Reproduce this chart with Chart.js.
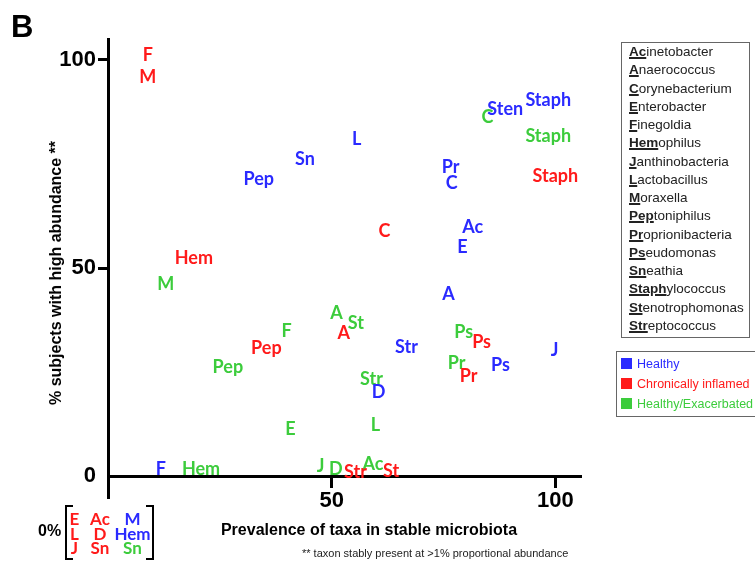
<!DOCTYPE html>
<html>
<head>
<meta charset="utf-8">
<script src="https://cdn.jsdelivr.net/npm/chart.js@4.4.1/dist/chart.umd.min.js"></script>
<style>
  body { margin: 0; background: #fff; }
  #wrap { position: relative; width: 755px; height: 562px; overflow: hidden; font-family: "Liberation Sans", Arial, sans-serif; }
  #chart { position: absolute; left: 0; top: 0; }
  .txt { position: absolute; white-space: nowrap; line-height: 1; }
  #panel { left: 11px; top: 11px; font-size: 31px; font-weight: bold; }
  #ytitle { left: 56px; top: 273px; font-size: 16px; font-weight: bold; transform: translate(-50%, -50%) rotate(-90deg); }
  #xtitle { left: 369px; top: 522px; font-size: 16px; font-weight: bold; transform: translateX(-50%); }
  #note { left: 302px; top: 548px; font-size: 11px; color: #222; }
  #taxa { position: absolute; left: 621px; top: 42px; width: 127px; height: 294px; border: 1px solid #666; }
  #taxa div { font-size: 13.5px; line-height: 18.27px; padding-left: 7px; color: #222; white-space: nowrap; }
  #taxa b { text-decoration: underline; text-decoration-thickness: 1.5px; }
  #groups { position: absolute; left: 616px; top: 351px; width: 160px; height: 62px; border: 1px solid #666; padding-top: 2px; }
  #groups div { font-size: 12.5px; line-height: 20px; padding-left: 4px; white-space: nowrap; }
  #groups span { display: inline-block; width: 11px; height: 11px; margin-right: 5px; vertical-align: -1px; }
  #zero { left: 38px; top: 523px; font-size: 16px; font-weight: bold; }
  .brk { position: absolute; top: 505px; width: 6px; height: 51px; border: 2px solid #000; }
  .z { position: absolute; font-family: Lato, sans-serif; font-weight: bold; font-size: 17px; line-height: 1; transform: translate(-50%, -50%); white-space: nowrap; }
</style>
</head>
<body>
<div id="wrap">
  <canvas id="chart" width="755" height="562"></canvas>
  <div class="txt" id="panel">B</div>
  <div class="txt" id="ytitle">% subjects with high abundance **</div>
  <div class="txt" id="xtitle">Prevalence of taxa in stable microbiota</div>
  <div class="txt" id="note">** taxon stably present at &gt;1% proportional abundance</div>
  <div id="taxa"></div>
  <div id="groups"></div>
  <div class="txt" id="zero">0%</div>
  <div class="brk" style="left:65px; border-right:none;"></div>
  <div class="brk" style="left:146px; border-left:none;"></div>
</div>
<script>
// groups
const groupNames = ['Healthy', 'Chronically inflamed', 'Healthy/Exacerbated'];
const groupColors = ['#2a2aff', '#ff1a1a', '#3ccc3c'];

// Healthy (blue)
const healthyLabels = ['L', 'Sn', 'Pep', 'Sten', 'Staph', 'Pr', 'C', 'Ac', 'E', 'A', 'Str', 'J', 'Ps', 'D', 'F'];
const healthyX = [55.6, 44.0, 33.7, 88.8, 98.4, 76.6, 76.8, 81.5, 79.2, 76.1, 66.7, 99.8, 87.7, 60.5, 11.8];
const healthyY = [81.0, 76.2, 71.4, 88.2, 90.4, 74.3, 70.4, 59.9, 55.0, 43.8, 31.0, 30.3, 26.7, 20.2, 1.7];

// Chronically inflamed (red)
const inflamedLabels = ['F', 'M', 'C', 'Hem', 'Staph', 'A', 'Pep', 'Ps', 'Pr', 'Str', 'St'];
const inflamedX = [8.9, 8.9, 61.8, 19.2, 100.0, 52.7, 35.4, 83.5, 80.6, 55.3, 63.3];
const inflamedY = [101.0, 95.9, 58.9, 52.4, 72.1, 34.3, 30.8, 32.2, 24.1, 0.9, 1.2];

// Healthy/Exacerbated (green)
const exacLabels = ['C', 'Staph', 'M', 'A', 'St', 'F', 'Pep', 'Ps', 'Pr', 'Str', 'L', 'E', 'J', 'D', 'Ac', 'Hem'];
const exacX = [84.8, 98.4, 12.9, 51.1, 55.4, 39.9, 26.8, 79.5, 77.9, 58.9, 59.8, 40.8, 47.5, 50.9, 59.2, 20.8];
const exacY = [86.3, 81.7, 46.2, 39.2, 36.8, 34.9, 26.2, 34.6, 27.2, 23.3, 12.3, 11.3, 2.4, 1.7, 2.9, 1.7];

// taxa at 0%
const healthyZero = ['M', 'Hem'];
const inflamedZero = ['E', 'L', 'J', 'Ac', 'D', 'Sn'];
const exacZero = ['Sn'];

const xTicks = [50, 100];
const yTicks = [0, 50, 100];

const taxaPrefix = ['Ac', 'A', 'C', 'E', 'F', 'Hem', 'J', 'L', 'M', 'Pep', 'Pr', 'Ps', 'Sn', 'Staph', 'St', 'Str'];
const taxaRest = ['inetobacter', 'naerococcus', 'orynebacterium', 'nterobacter', 'inegoldia', 'ophilus',
  'anthinobacteria', 'actobacillus', 'oraxella', 'toniphilus', 'oprionibacteria', 'eudomonas',
  'eathia', 'ylococcus', 'enotrophomonas', 'eptococcus'];

// legends in html
const taxaBox = document.getElementById('taxa');
taxaPrefix.forEach((p, i) => {
  const d = document.createElement('div');
  d.innerHTML = `<b>${p}</b>${taxaRest[i]}`;
  taxaBox.appendChild(d);
});
const groupBox = document.getElementById('groups');
groupNames.forEach((n, i) => {
  const d = document.createElement('div');
  d.style.color = groupColors[i];
  d.innerHTML = `<span style="background:${groupColors[i]}"></span>${n}`;
  groupBox.appendChild(d);
});

// 0% block, column by column, 3 rows
const zeroItems = [
  ...inflamedZero.map(t => [t, 1]),
  ...healthyZero.map(t => [t, 0]),
  ...exacZero.map(t => [t, 2])
];
const colX = [74.5, 100, 132.5];
const rowY = [518, 533, 547];
zeroItems.forEach(([t, g], i) => {
  const d = document.createElement('div');
  d.className = 'z';
  d.textContent = t;
  d.style.color = groupColors[g];
  d.style.left = colX[Math.floor(i / 3)] + 'px';
  d.style.top = rowY[i % 3] + 'px';
  document.getElementById('wrap').appendChild(d);
});

const toPoints = (xs, ys) => xs.map((x, i) => ({ x, y: ys[i] }));

// text instead of point markers
const textLabels = {
  id: 'textLabels',
  afterDatasetsDraw(chart) {
    const ctx = chart.ctx;
    ctx.save();
    ctx.font = 'bold 18px Lato';
    ctx.textAlign = 'center';
    ctx.textBaseline = 'middle';
    [2, 0, 1].forEach(i => {
      const ds = chart.data.datasets[i];
      ctx.fillStyle = ds.borderColor;
      chart.getDatasetMeta(i).data.forEach((pt, j) => {
        ctx.fillText(ds.texts[j], pt.x, pt.y);
      });
    });
    ctx.restore();
  }
};

const axisFont = { family: 'Liberation Sans', weight: 'bold', size: 22 };

new Chart(document.getElementById('chart'), {
  type: 'scatter',
  data: {
    datasets: [
      { label: groupNames[0], data: toPoints(healthyX, healthyY), texts: healthyLabels, borderColor: groupColors[0], pointRadius: 0 },
      { label: groupNames[1], data: toPoints(inflamedX, inflamedY), texts: inflamedLabels, borderColor: groupColors[1], pointRadius: 0 },
      { label: groupNames[2], data: toPoints(exacX, exacY), texts: exacLabels, borderColor: groupColors[2], pointRadius: 0 }
    ]
  },
  options: {
    responsive: false,
    animation: false,
    layout: { padding: { left: 0, right: 175, top: 39, bottom: 65 } },
    plugins: { legend: { display: false }, tooltip: { enabled: false } },
    scales: {
      x: {
        type: 'linear', min: 0, max: 105.5,
        position: { y: 0 },
        afterFit: s => { s.height = 0; },
        afterBuildTicks: s => { s.ticks = xTicks.map(v => ({ value: v })); },
        grid: { drawOnChartArea: false, color: '#000', lineWidth: 3, tickLength: 10 },
        border: { color: '#000', width: 3 },
        ticks: { color: '#000', font: axisFont, padding: 2, maxRotation: 0 }
      },
      y: {
        type: 'linear', min: -5, max: 105,
        afterFit: s => { s.width = 108; },
        afterBuildTicks: s => { s.ticks = yTicks.map(v => ({ value: v })); },
        grid: { drawOnChartArea: false, lineWidth: 3, tickLength: 10,
          color: c => (c.tick && c.tick.value === 0) ? 'rgba(0,0,0,0)' : '#000' },
        border: { color: '#000', width: 3 },
        ticks: { color: '#000', font: axisFont, padding: 2 }
      }
    }
  },
  plugins: [textLabels]
});
</script>
</body>
</html>
